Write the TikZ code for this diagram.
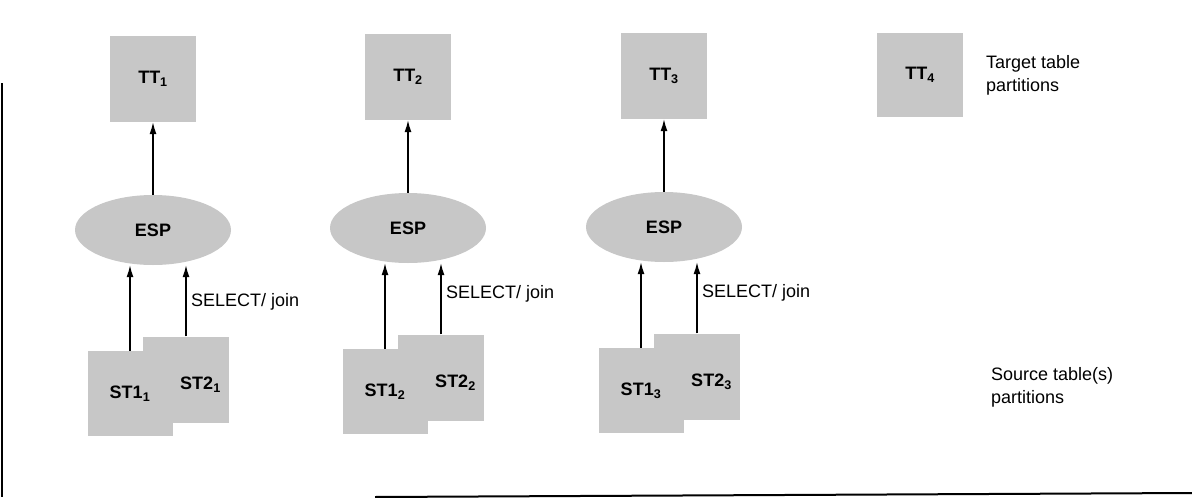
\documentclass[tikz,border=0pt]{standalone}
\usepackage{fontspec}
\setmainfont{Liberation Sans}
\usetikzlibrary{arrows.meta,shapes.geometric}
\begin{document}
\begin{tikzpicture}[x=1pt,y=-1pt,
  every node/.style={font=\fontsize{18}{23}\selectfont, inner sep=0pt},
  part/.style={fill=black!22, draw=none, minimum width=86pt, minimum height=86pt, font=\fontsize{18}{23}\selectfont\bfseries},
  partlab/.style={font=\fontsize{18}{23}\selectfont\bfseries},
  espnode/.style={ellipse, fill=black!22, draw=none, minimum width=156pt, minimum height=70pt, font=\fontsize{18}{23}\selectfont\bfseries},
  flow/.style={-{Latex[length=12pt,width=7pt]}, line width=1.3pt},
  frameline/.style={line width=2pt}]
\useasboundingbox (0,0) rectangle (1192,498);
% frame
\coordinate (f1) at (2,83);
\coordinate (f2) at (2,497);
\coordinate (f3) at (375,497);
\coordinate (f4) at (1192,493);
\draw[frameline] (f1) -- (f2);
\draw[frameline] (f3) -- (f4);
% columns
\foreach \i/\xc/\dy/\sy in {1/153/2/306, 2/408/0/298, 3/664/-1/297} {
  \node[part] (tt\i) at (\xc,77+\dy) {TT\textsubscript{\i}};
  \node[espnode] (esp\i) at (\xc,228+\dy) {ESP};
  \node[part] (stb\i) at (\xc+33,377.5+\dy) {};
  \node[part, minimum width=85pt, minimum height=85pt] (sta\i) at (\xc-23,391.5+\dy) {ST1\textsubscript{\i}};
  \node[partlab] (stblab\i) at ([xshift=14.5pt,yshift=-5pt]stb\i.center) {ST2\textsubscript{\i}};
  \draw[flow] (esp\i) -- (tt\i);
  \draw[flow] (sta\i.north) -- (sta\i.north |- esp\i.south);
  \draw[flow] (stb\i.north) -- (stb\i.north |- esp\i.south);
  \node[anchor=base west] (sel\i) at (\xc+38,\sy) {SELECT/ join};
}
% legend
\node[part, minimum height=84pt] (tt4) at (920,75) {TT\textsubscript{4}};
\node[anchor=west, align=left] (tgtlab) at (986,75) {Target table\\partitions};
\node[anchor=west, align=left] (srclab) at (991,387) {Source table(s)\\partitions};
\end{tikzpicture}
\end{document}
